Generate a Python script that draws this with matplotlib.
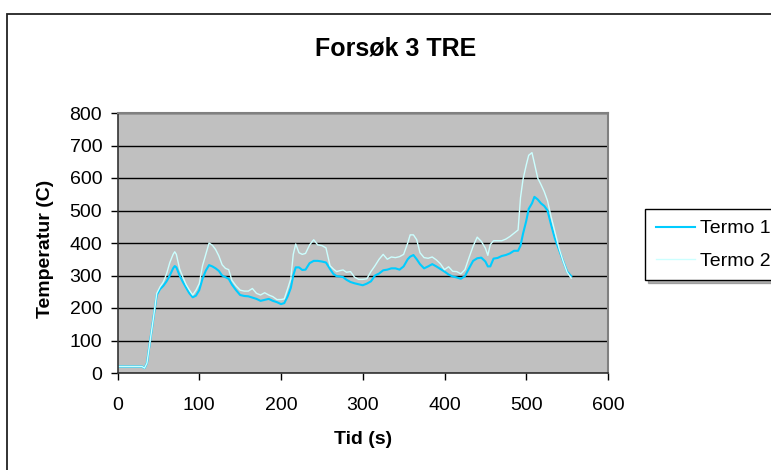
import matplotlib
matplotlib.use("Agg")
import matplotlib.pyplot as plt
from matplotlib.patches import Rectangle

plt.rcParams['font.family'] = ['Liberation Sans', 'DejaVu Sans']

# time (s)
tid = [0, 10, 20, 30, 33, 36, 40, 44, 48, 52, 56, 60, 64, 68, 70, 72, 76, 80,
       84, 88, 92, 96, 100, 104, 108, 112, 116, 120, 124, 128, 132, 136, 140,
       145, 150, 155, 160, 165, 170, 175, 180, 185, 190, 195, 200, 204, 208,
       212, 215, 218, 222, 226, 230, 235, 240, 245, 250, 255, 260, 264, 268,
       272, 276, 280, 285, 290, 295, 300, 305, 310, 315, 320, 325, 330, 335,
       340, 345, 350, 355, 358, 362, 366, 370, 375, 380, 385, 390, 395, 400,
       405, 410, 415, 420, 425, 430, 435, 440, 445, 450, 453, 456, 460, 465,
       470, 475, 480, 485, 490, 493, 496, 500, 503, 507, 510, 514, 518, 522,
       526, 530, 535, 540, 545, 550, 555]

termo1 = [20, 20, 20, 20, 15, 30, 100, 170, 240, 258, 268, 282, 300, 322, 329,
          325, 300, 280, 262, 245, 233, 238, 255, 290, 315, 332, 328, 322, 314,
          300, 295, 290, 272, 255, 240, 237, 236, 232, 228, 222, 225, 228, 222,
          218, 212, 215, 235, 262, 300, 325, 325, 317, 318, 338, 345, 345, 343,
          340, 320, 305, 298, 297, 295, 287, 280, 276, 273, 270, 275, 282, 300,
          306, 316, 318, 322, 322, 318, 328, 350, 358, 363, 350, 335, 322, 328,
          335, 328, 320, 312, 303, 297, 294, 290, 298, 322, 345, 353, 355, 343,
          328, 328, 352, 354, 360, 363, 368, 376, 376, 392, 428, 468, 505, 522,
          542, 534, 522, 514, 500, 460, 414, 380, 345, 312, 298]

termo2 = [20, 20, 20, 20, 15, 30, 100, 170, 245, 265, 280, 305, 340, 365, 373,
          365, 320, 295, 272, 255, 240, 255, 275, 330, 365, 400, 393, 380, 360,
          333, 322, 318, 285, 268, 255, 252, 252, 260, 245, 240, 247, 240, 235,
          226, 226, 228, 258, 290, 365, 397, 370, 365, 368, 394, 410, 394, 392,
          385, 330, 320, 312, 315, 317, 310, 312, 295, 288, 288, 290, 312, 330,
          350, 365, 350, 357, 355, 358, 365, 400, 425, 425, 410, 370, 355, 353,
          357, 348, 336, 318, 327, 313, 312, 305, 318, 355, 390, 418, 405, 384,
          362, 395, 407, 407, 407, 412, 420, 430, 440, 540, 595, 640, 670, 678,
          645, 600, 580, 558, 530, 485, 435, 385, 345, 310, 292]

x_ticks = [0, 100, 200, 300, 400, 500, 600]
y_ticks = [0, 100, 200, 300, 400, 500, 600, 700, 800]

W, H = 771, 470
fig = plt.figure(figsize=(W / 100, H / 100), dpi=100)

# outer chart frame (runs off the right and bottom edge)
fig.patches.append(Rectangle((7 / W, -0.05), 1.1, 1 - 14 / H + 0.05,
                             transform=fig.transFigure, fill=False,
                             edgecolor='#222222', linewidth=1.3))

ax = fig.add_axes([117.5 / W, 1 - 373 / H, (608 - 117.5) / W, (373 - 113) / H])
ax.set_facecolor('#C0C0C0')
ax.plot(tid, termo1, color='#00CCFF', linewidth=1.5, label='Termo 1')
ax.plot(tid, termo2, color='#CCFFFF', linewidth=1.0, label='Termo 2')

ax.set_xlim(0, 600)
ax.set_ylim(0, 800)
ax.set_xticks(x_ticks)
ax.set_yticks(y_ticks)
ax.yaxis.grid(True, color='black', linewidth=1.0)
ax.set_axisbelow(True)
for s in ['top', 'right']:
    ax.spines[s].set_color('#808080')
    ax.spines[s].set_linewidth(1.5)
for s in ['left', 'bottom']:
    ax.spines[s].set_color('#333333')
    ax.spines[s].set_linewidth(1.2)
ax.tick_params(direction='out', length=5, width=1, labelsize=14, pad=12)
ax.tick_params(axis='y', pad=6)

fig.text(396 / W, 1 - 49 / H, 'Forsøk 3 TRE', fontsize=18, fontweight='bold',
         ha='center', va='center')
fig.text(363 / W, 1 - 440 / H, 'Tid (s)', fontsize=14, fontweight='bold',
         ha='center', va='center')
fig.text(45 / W, 1 - 249 / H, 'Temperatur (C)', fontsize=14, fontweight='bold',
         ha='center', va='center', rotation=90)

leg = ax.legend(loc='upper left', bbox_to_anchor=(645 / W, 1 - 209 / H),
                bbox_transform=fig.transFigure, fontsize=14, frameon=True,
                fancybox=False, shadow={'ox': 2, 'oy': -2, 'color': '#666666'},
                borderaxespad=0, handlelength=2.0, handletextpad=0.3,
                labelspacing=0.75, borderpad=0.55)
leg.get_frame().set_edgecolor('black')
leg.get_frame().set_linewidth(1.0)

fig.savefig('out.png', dpi=100)
